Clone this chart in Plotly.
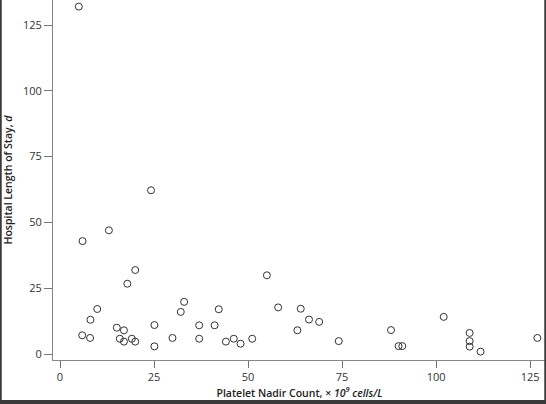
import plotly.graph_objects as go

# ---- data ----
platelet_nadir = [
    5.0, 24.2, 6.0, 13.0, 20.0, 17.9, 9.9, 8.1, 5.9, 8.0,
    15.1, 17.0, 15.9, 17.0, 19.1, 20.0, 25.1, 25.1, 29.9, 32.1,
    33.0, 37.0, 37.0, 41.1, 42.2, 44.1, 46.2, 48.0, 51.1, 55.0,
    58.0, 64.0, 63.1, 66.2, 68.9, 74.1, 88.0, 90.0, 91.0, 102.0,
    108.9, 108.9, 108.9, 111.8, 126.9,
]
length_of_stay = [
    132, 62.2, 42.9, 47, 31.9, 26.7, 17.1, 13.0, 7.1, 6.1,
    10.0, 9.0, 5.8, 4.7, 5.8, 4.7, 11.0, 2.9, 6.1, 16.0,
    19.8, 10.9, 5.8, 10.9, 17.0, 4.7, 5.8, 3.9, 5.8, 29.9,
    17.7, 17.2, 9.0, 13.1, 12.2, 4.9, 9.1, 3.0, 3.0, 14.1,
    8.0, 4.9, 2.8, 0.9, 6.1,
]
x_ticks = [0, 25, 50, 75, 100, 125]
y_ticks = [0, 25, 50, 75, 100, 125]

fig = go.Figure()
fig.add_trace(go.Scatter(
    x=platelet_nadir, y=length_of_stay, mode="markers",
    marker=dict(symbol="circle-open", size=7, color="#333333",
                line=dict(width=1, color="#333333")),
    showlegend=False,
))

axis_font = dict(family="Open Sans", size=11, color="#333333")
title_font = dict(family="Open Sans", size=10.5, color="#222222", weight=600)

fig.update_layout(
    width=546, height=404,
    margin=dict(l=53, r=0, t=0, b=44),
    plot_bgcolor="white", paper_bgcolor="white",
    xaxis=dict(
        range=[-1.86, 129.2], tickvals=x_ticks, ticks="outside", ticklen=7,
        tickcolor="#777777", showline=True, linecolor="#888888", linewidth=1,
        showgrid=False, zeroline=False, tickfont=axis_font,
        title=dict(text="Platelet Nadir Count, × <i>10<sup>9</sup> cells/L</i>",
                   font=title_font, standoff=2),
    ),
    yaxis=dict(
        range=[-2.28, 134.5], tickvals=y_ticks, ticks="outside", ticklen=8,
        tickcolor="#777777", showline=True, linecolor="#888888", linewidth=1,
        showgrid=False, zeroline=False, tickfont=axis_font,
        title=dict(text="Hospital Length of Stay, <i>d</i>",
                   font=title_font, standoff=8),
    ),
)

# dark frame edges of the cropped figure
frame = "#3a3a3a"
fig.add_shape(type="line", xref="paper", yref="paper",
              x0=-0.106, x1=-0.106, y0=-0.125, y1=1.0,
              line=dict(color=frame, width=2))
fig.add_shape(type="line", xref="paper", yref="paper",
              x0=0.9985, x1=0.9985, y0=-0.125, y1=1.0,
              line=dict(color=frame, width=2))
fig.add_shape(type="line", xref="paper", yref="paper",
              x0=-0.11, x1=1.0, y0=-0.1167, y1=-0.1167,
              line=dict(color=frame, width=4))

# page body has a default margin; remove it so the figure fills the window
fig.write_html("out.html", config={"displayModeBar": False},
               post_script="document.body.style.margin='0';")
